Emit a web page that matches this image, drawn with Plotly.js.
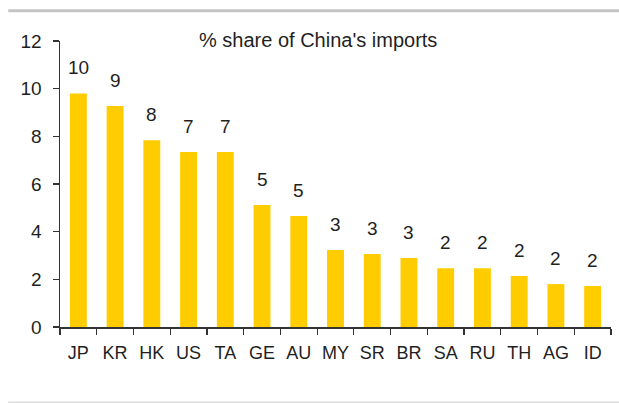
<!DOCTYPE html>
<html>
<head>
<meta charset="utf-8">
<script src="https://cdn.plot.ly/plotly-3.0.1.min.js"></script>
<style>html,body{margin:0;padding:0;background:#fff;}#chart{width:619px;height:404px;}</style>
</head>
<body>
<div id="chart"></div>
<script>
const categories = ["JP","KR","HK","US","TA","GE","AU","MY","SR","BR","SA","RU","TH","AG","ID"];
const shares = [9.8, 9.27, 7.84, 7.34, 7.34, 5.12, 4.66, 3.23, 3.06, 2.9, 2.47, 2.47, 2.14, 1.8, 1.72];
const labels = shares.map(v => String(Math.round(v)));
const yTicks = [0, 2, 4, 6, 8, 10, 12];

const FONT = "Liberation Sans, Arial, sans-serif";
const TXT = "#1f1f1f";

const trace = {
  type: "bar",
  x: categories,
  y: shares,
  marker: {color: "#FFCC00"},
  width: 0.46,
  hoverinfo: "x+y"
};

const annotations = categories.map((c, i) => ({
  x: c, y: shares[i], xref: "x", yref: "y",
  text: labels[i], showarrow: false,
  yanchor: "bottom", yshift: 13,
  font: {family: FONT, size: 19, color: TXT}
}));

const layout = {
  width: 619, height: 404,
  margin: {l: 60, r: 8, t: 41, b: 77},
  paper_bgcolor: "#ffffff",
  plot_bgcolor: "#ffffff",
  showlegend: false,
  font: {family: FONT, size: 18, color: TXT},
  title: {
    text: "% share of China's imports",
    x: 0.514, xref: "container", xanchor: "center",
    y: 0.9, yref: "container", yanchor: "middle",
    font: {family: FONT, size: 20, color: TXT}
  },
  xaxis: {
    type: "category",
    showline: true, linecolor: "#333333", linewidth: 1.5,
    ticks: "outside", tickson: "boundaries", ticklen: 6, tickcolor: "#333333", tickwidth: 1.2,
    ticklabelstandoff: 9,
    showgrid: false, zeroline: false,
    tickfont: {family: FONT, size: 18, color: TXT}
  },
  yaxis: {
    range: [0, 12],
    tickvals: yTicks,
    ticktext: yTicks.map(String),
    showline: true, linecolor: "#333333", linewidth: 1.5,
    ticks: "outside", ticklen: 6, tickcolor: "#333333", tickwidth: 1.2,
    ticklabelstandoff: 7,
    showgrid: false, zeroline: false,
    tickfont: {family: FONT, size: 19, color: TXT}
  },
  annotations: annotations,
  shapes: [
    {type: "line", xref: "paper", yref: "paper", x0: -0.094, x1: 1.02, y0: 1.106, y1: 1.106,
     line: {color: "#c4c4c4", width: 3}},
    {type: "line", xref: "paper", yref: "paper", x0: -0.094, x1: 1.02, y0: -0.263, y1: -0.263,
     line: {color: "#dddddd", width: 1.5}}
  ]
};

Plotly.newPlot("chart", [trace], layout, {displayModeBar: false, staticPlot: true});
</script>
</body>
</html>
